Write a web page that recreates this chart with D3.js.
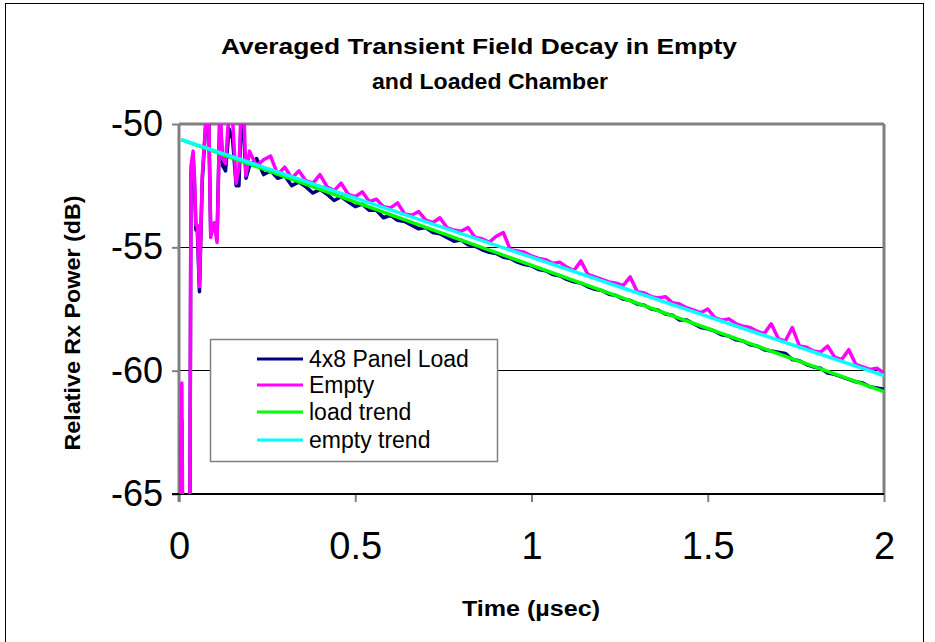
<!DOCTYPE html>
<html><head><meta charset="utf-8">
<script src="https://cdn.jsdelivr.net/npm/d3@7"></script>
<style>body{margin:0;background:#fff}svg{display:block}text{font-family:"Liberation Sans",Arial,sans-serif}</style>
</head><body>
<svg id="c" width="935" height="642"></svg>
<script>
const title = ["Averaged Transient Field Decay in Empty", "and Loaded Chamber"];
const xTicks = [0, 0.5, 1, 1.5, 2];
const yTicks = [-65, -60, -55, -50];
const seriesNames = ["4x8 Panel Load", "Empty", "load trend", "empty trend"];
const seriesColors = ["#000080", "#FF00FF", "#00FF00", "#00FFFF"];

const tEarly = [0.000,0.008,0.012,0.030,0.034,0.040,0.044,0.048,0.052,0.058,0.066,0.078,0.084,0.090,0.100,0.108,0.116,0.124,0.132,0.142,0.152,0.162,0.170,0.176,0.184,0.190];
const loadEarly = [-70,-62.0,-70,-70,-52.0,-51.3,-52.5,-54.3,-54.3,-56.8,-52.3,-49.5,-49.5,-54.4,-54.1,-54.6,-49.5,-51.7,-51.9,-50.2,-50.6,-52.5,-52.5,-50.0,-50.5,-52.2];
const emptyEarly = [-70,-60.5,-70,-70,-51.7,-51.1,-52.2,-54.1,-54.1,-56.6,-52.1,-49.5,-49.5,-54.6,-54.0,-54.8,-49.5,-51.4,-51.6,-49.5,-49.8,-52.4,-51.8,-49.5,-49.5,-52.1];

const tMain = d3.range(91).map(i => +(0.2 + i * 0.02).toFixed(2));
const loadMain = [-51.70,-51.40,-52.05,-51.90,-52.20,-52.10,-52.50,-52.35,-52.55,-52.80,
-52.65,-52.85,-53.10,-52.95,-53.15,-53.35,-53.25,-53.50,-53.50,-53.80,
-53.70,-53.90,-53.95,-54.10,-54.25,-54.20,-54.40,-54.45,-54.60,-54.75,
-54.70,-54.90,-54.95,-55.10,-55.20,-55.25,-55.40,-55.45,-55.60,-55.70,
-55.75,-55.90,-55.95,-56.10,-56.15,-56.30,-56.40,-56.45,-56.60,-56.70,
-56.75,-56.90,-56.95,-57.10,-57.15,-57.30,-57.35,-57.50,-57.55,-57.70,
-57.75,-57.95,-57.95,-58.10,-58.25,-58.30,-58.40,-58.55,-58.60,-58.75,
-58.80,-58.95,-59.00,-59.15,-59.20,-59.25,-59.30,-59.55,-59.60,-59.75,
-59.85,-59.90,-60.10,-60.15,-60.25,-60.35,-60.45,-60.50,-60.65,-60.70,-60.75];
const emptyMain = [-51.10,-51.70,-51.45,-51.30,-52.05,-51.75,-52.20,-51.90,-52.30,-52.40,
-52.05,-52.55,-52.70,-52.40,-52.85,-52.95,-52.75,-53.15,-53.05,-53.35,
-53.40,-53.20,-53.65,-53.70,-53.55,-53.90,-54.00,-53.80,-54.20,-54.30,
-54.35,-54.20,-54.60,-54.65,-54.80,-54.55,-54.40,-55.10,-55.15,-55.20,
-55.35,-55.45,-55.50,-55.65,-55.60,-55.80,-55.95,-55.55,-56.10,-56.20,
-56.30,-56.40,-56.45,-56.55,-56.20,-56.80,-56.85,-57.00,-57.05,-57.00,
-57.25,-57.30,-57.45,-57.55,-57.65,-57.50,-57.85,-57.95,-57.90,-58.10,
-58.20,-58.25,-58.40,-58.50,-58.10,-58.70,-58.80,-58.25,-59.00,-59.05,
-59.20,-59.25,-59.00,-59.45,-59.55,-59.15,-59.75,-59.85,-59.95,-59.90,-60.10];
const trendT = [0.006, 2.0];
const loadTrend = [-50.63, -60.85];
const emptyTrend = [-50.63, -60.20];

const svg = d3.select("#c");
const L = 179, R = 884, T = 124, B = 494;
const x = d3.scaleLinear().domain([0, 2]).range([L, R]);
const y = d3.scaleLinear().domain([-65, -50]).range([B, T]);

// outer frame
svg.append("rect").attr("x", 5.5).attr("y", 3.5).attr("width", 918).attr("height", 650)
  .attr("fill", "none").attr("stroke", "#000").attr("stroke-width", 1);

// title
svg.append("text").attr("x", 479).attr("y", 54).attr("text-anchor", "middle")
  .attr("font-size", 22).attr("font-weight", "bold").attr("textLength", 516).attr("lengthAdjust", "spacingAndGlyphs").text(title[0]);
svg.append("text").attr("x", 490).attr("y", 89).attr("text-anchor", "middle")
  .attr("font-size", 22).attr("font-weight", "bold").attr("textLength", 236).attr("lengthAdjust", "spacingAndGlyphs").text(title[1]);

// gridlines
svg.append("g").selectAll("line").data(yTicks.filter(v => v > -65 && v < -50)).join("line")
  .attr("x1", L).attr("x2", R).attr("y1", d => y(d)).attr("y2", d => y(d))
  .attr("stroke", "#000").attr("stroke-width", 1).attr("shape-rendering", "crispEdges");

// axes
const yAxis = svg.append("g").attr("transform", `translate(${L},0)`)
  .call(d3.axisLeft(y).tickValues(yTicks).tickSize(7).tickPadding(9).tickFormat(d => String(d)));
yAxis.select(".domain").remove();
yAxis.selectAll("line").attr("stroke", "#808080").attr("stroke-width", 2);
yAxis.selectAll("text").attr("font-size", 36).attr("fill", "#000").attr("font-family", "Liberation Sans, Arial, sans-serif");

const xAxis = svg.append("g").attr("transform", `translate(0,${B})`)
  .call(d3.axisBottom(x).tickValues(xTicks).tickSize(8).tickPadding(30).tickFormat(d => String(d)));
xAxis.select(".domain").remove();
xAxis.selectAll("line").attr("stroke", "#808080").attr("stroke-width", 2);
xAxis.selectAll("text").attr("font-size", 38).attr("fill", "#000").attr("font-family", "Liberation Sans, Arial, sans-serif");

// plot border
svg.append("line").attr("x1", L).attr("x2", R).attr("y1", T).attr("y2", T).attr("stroke", "#808080").attr("stroke-width", 3);
svg.append("line").attr("x1", R).attr("x2", R).attr("y1", T).attr("y2", B).attr("stroke", "#808080").attr("stroke-width", 3);
svg.append("line").attr("x1", L).attr("x2", L).attr("y1", T).attr("y2", B + 8).attr("stroke", "#808080").attr("stroke-width", 3);
svg.append("line").attr("x1", L - 7).attr("x2", R).attr("y1", B).attr("y2", B).attr("stroke", "#000").attr("stroke-width", 2);

// clip
svg.append("clipPath").attr("id", "clip").append("rect").attr("x", L).attr("y", T).attr("width", R - L).attr("height", B - T);

const line = d3.line().x(d => x(d[0])).y(d => y(d[1]));
const loadData = tEarly.map((t, i) => [t, loadEarly[i]]).concat(tMain.map((t, i) => [t, loadMain[i]]));
const emptyData = tEarly.map((t, i) => [t, emptyEarly[i]]).concat(tMain.map((t, i) => [t, emptyMain[i]]));
const loadTr = trendT.map((t, i) => [t, loadTrend[i]]);
const emptyTr = trendT.map((t, i) => [t, emptyTrend[i]]);

const plot = svg.append("g").attr("clip-path", "url(#clip)");
[loadData, emptyData, loadTr, emptyTr].forEach((d, i) => {
  plot.append("path").datum(d).attr("d", line).attr("fill", "none")
    .attr("stroke", seriesColors[i]).attr("stroke-width", 3.5).attr("stroke-linejoin", "round");
});

// legend
const lg = svg.append("g");
lg.append("rect").attr("x", 210.5).attr("y", 339.5).attr("width", 287).attr("height", 122)
  .attr("fill", "#fff").attr("stroke", "#808080").attr("stroke-width", 1.5);
const rowY = [359, 385, 412, 440];
seriesNames.forEach((n, i) => {
  lg.append("line").attr("x1", 257).attr("x2", 303).attr("y1", rowY[i]).attr("y2", rowY[i])
    .attr("stroke", seriesColors[i]).attr("stroke-width", 3);
  lg.append("text").attr("x", 309).attr("y", rowY[i]).attr("dy", "0.36em").attr("font-size", 23).text(n);
});

// axis titles
svg.append("text").attr("x", 531).attr("y", 616).attr("text-anchor", "middle")
  .attr("font-size", 22).attr("font-weight", "bold").attr("textLength", 138).attr("lengthAdjust", "spacingAndGlyphs").text("Time (\u00B5sec)");
svg.append("text").attr("transform", "translate(80,323) rotate(-90)").attr("text-anchor", "middle")
  .attr("font-size", 22).attr("font-weight", "bold").attr("textLength", 255).attr("lengthAdjust", "spacingAndGlyphs").text("Relative Rx Power (dB)");
</script>
</body></html>
